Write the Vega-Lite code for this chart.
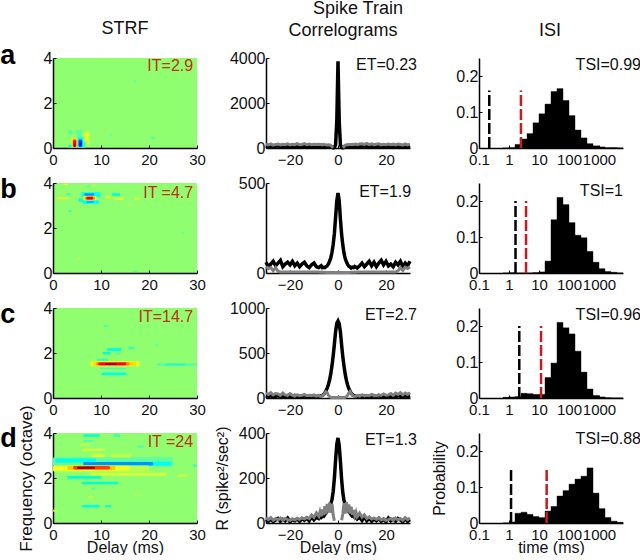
{"$schema":"https://vega.github.io/schema/vega-lite/v6.json","background":"white","padding":{"left":0,"top":0,"right":0,"bottom":0},"bounds":"flush","columns":3,"spacing":{"row":35,"column":69},
"config":{"view":{"stroke":null,"fill":"#8fff70"},"font":"Liberation Sans","axis":{"grid":false,"domainColor":"#000","domainWidth":1.5,"tickColor":"#000","tickSize":-3,"tickWidth":1,"labelFont":"Liberation Sans","labelFontSize":16,"labelColor":"#111","labelFlush":false,"labelOverlap":false,"titleFont":"Liberation Sans","titleFontSize":16,"titleFontWeight":"normal","titleColor":"#111"},"axisX":{"labelPadding":7,"titlePadding":-3,"labelFontSize":15},"axisY":{"labelPadding":4,"titlePadding":8}},
"datasets":{
"strf":[
{"p":"a","x":4.9,"x2":6,"y":0.53,"y2":0.8,"v":-0.08},{"p":"a","x":3.2,"x2":4.1,"y":0.6,"y2":0.8,"v":-0.08},{"p":"a","x":6.3,"x2":7.7,"y":0.1,"y2":0.75,"v":0.1},{"p":"a","x":6.6,"x2":7.4,"y":0.3,"y2":0.7,"v":0.18},{"p":"a","x":3.2,"x2":4.2,"y":0,"y2":0.15,"v":-0.2},{"p":"a","x":6.2,"x2":6.8,"y":0,"y2":0.3,"v":-0.1},{"p":"a","x":3.9,"x2":5.1,"y":0,"y2":0.46,"v":0.25},{"p":"a","x":4.05,"x2":4.95,"y":0,"y2":0.42,"v":0.5},{"p":"a","x":4.2,"x2":4.8,"y":0.04,"y2":0.36,"v":0.75},{"p":"a","x":4.35,"x2":4.65,"y":0.04,"y2":0.22,"v":1},{"p":"a","x":5.1,"x2":6.3,"y":0,"y2":0.5,"v":-0.25},{"p":"a","x":5.3,"x2":6.1,"y":0.04,"y2":0.38,"v":-0.7},{"p":"a","x":5.5,"x2":5.9,"y":0.08,"y2":0.25,"v":-0.85},{"p":"a","x":20.4,"x2":21.2,"y":0.4,"y2":0.5,"v":-0.08},{"p":"a","x":16.8,"x2":17.4,"y":2.95,"y2":3.05,"v":-0.06},{"p":"a","x":11.8,"x2":12.4,"y":0.55,"y2":0.65,"v":-0.06},
{"p":"b","x":5.8,"x2":10,"y":3.36,"y2":3.6,"v":-0.12},{"p":"b","x":6,"x2":9.8,"y":3.39,"y2":3.57,"v":-0.25},{"p":"b","x":6.5,"x2":8.6,"y":3.44,"y2":3.53,"v":-0.6},{"p":"b","x":5.3,"x2":6.7,"y":3.17,"y2":3.32,"v":-0.2},{"p":"b","x":6.2,"x2":9.6,"y":3.07,"y2":3.23,"v":-0.25},{"p":"b","x":6.9,"x2":8.6,"y":3.12,"y2":3.19,"v":-0.5},{"p":"b","x":6.2,"x2":9.1,"y":3.23,"y2":3.42,"v":0.25},{"p":"b","x":6.6,"x2":8.8,"y":3.25,"y2":3.4,"v":0.5},{"p":"b","x":6.9,"x2":8.4,"y":3.27,"y2":3.39,"v":0.8},{"p":"b","x":0.8,"x2":3.4,"y":3.28,"y2":3.38,"v":0.18},{"p":"b","x":2.85,"x2":3.5,"y":3.47,"y2":3.53,"v":-0.2},{"p":"b","x":2.15,"x2":3.2,"y":3.91,"y2":3.97,"v":0.2},{"p":"b","x":11,"x2":12.2,"y":3.32,"y2":3.41,"v":0.2},{"p":"b","x":12.2,"x2":14,"y":3.42,"y2":3.54,"v":-0.18},{"p":"b","x":12.6,"x2":14.7,"y":3.26,"y2":3.35,"v":0.2},{"p":"b","x":17.1,"x2":18.1,"y":3.25,"y2":3.35,"v":0.2},{"p":"b","x":15.7,"x2":16.5,"y":3,"y2":3.1,"v":0.08},{"p":"b","x":3.2,"x2":3.9,"y":2.72,"y2":2.8,"v":-0.12},{"p":"b","x":5,"x2":5.7,"y":0.6,"y2":0.68,"v":0.15},{"p":"b","x":16.6,"x2":17.6,"y":0.04,"y2":0.1,"v":-0.08},{"p":"b","x":26.7,"x2":27.3,"y":1.76,"y2":1.84,"v":-0.06},{"p":"b","x":7,"x2":8,"y":3.82,"y2":3.88,"v":-0.1},{"p":"b","x":8,"x2":9,"y":3.84,"y2":3.9,"v":0.15},
{"p":"c","x":11.2,"x2":14.3,"y":2.09,"y2":2.22,"v":-0.2},{"p":"c","x":10.3,"x2":12,"y":1.93,"y2":2.05,"v":-0.16},{"p":"c","x":15.7,"x2":17,"y":2.17,"y2":2.27,"v":-0.12},{"p":"c","x":12.9,"x2":14,"y":1.93,"y2":2,"v":-0.08},{"p":"c","x":9.1,"x2":11.5,"y":1.66,"y2":1.75,"v":-0.12},{"p":"c","x":9.8,"x2":15.3,"y":1.28,"y2":1.35,"v":-0.1},{"p":"c","x":10.1,"x2":15.3,"y":1.01,"y2":1.13,"v":-0.2},{"p":"c","x":21.6,"x2":30,"y":1.44,"y2":1.53,"v":-0.1},{"p":"c","x":23.5,"x2":27.5,"y":1.46,"y2":1.52,"v":-0.18},{"p":"c","x":21.3,"x2":22,"y":2.32,"y2":2.38,"v":-0.07},{"p":"c","x":10.5,"x2":11.5,"y":3.16,"y2":3.24,"v":-0.1},{"p":"c","x":7.4,"x2":8.2,"y":3.82,"y2":3.9,"v":0.1},{"p":"c","x":18.5,"x2":21,"y":1.44,"y2":1.5,"v":0.04},{"p":"c","x":7.7,"x2":18.1,"y":1.41,"y2":1.63,"v":0.2},{"p":"c","x":8.4,"x2":17.4,"y":1.43,"y2":1.6,"v":0.35},{"p":"c","x":9,"x2":16,"y":1.45,"y2":1.59,"v":0.55},{"p":"c","x":9.4,"x2":15.3,"y":1.46,"y2":1.58,"v":0.75},{"p":"c","x":10.8,"x2":13.3,"y":1.48,"y2":1.55,"v":1},
{"p":"d","x":0,"x2":25,"y":2.52,"y2":2.92,"v":-0.07},{"p":"d","x":0.4,"x2":9,"y":2.69,"y2":2.87,"v":-0.2},{"p":"d","x":6.3,"x2":24.7,"y":2.54,"y2":2.72,"v":-0.22},{"p":"d","x":6.3,"x2":20.9,"y":2.56,"y2":2.71,"v":-0.55},{"p":"d","x":0,"x2":20,"y":2.28,"y2":2.56,"v":0.1},{"p":"d","x":0,"x2":16,"y":2.33,"y2":2.55,"v":0.22},{"p":"d","x":3,"x2":13,"y":2.36,"y2":2.54,"v":0.4},{"p":"d","x":4.2,"x2":11.9,"y":2.38,"y2":2.53,"v":0.7},{"p":"d","x":5,"x2":8.75,"y":2.41,"y2":2.5,"v":1},{"p":"d","x":7.7,"x2":23.7,"y":2.1,"y2":2.23,"v":0.16},{"p":"d","x":2.9,"x2":10.1,"y":1.97,"y2":2.09,"v":-0.16},{"p":"d","x":6,"x2":13.6,"y":1.72,"y2":1.83,"v":-0.16},{"p":"d","x":6,"x2":9.8,"y":0.69,"y2":0.8,"v":-0.2},{"p":"d","x":10.8,"x2":12.2,"y":0.69,"y2":0.8,"v":-0.14},{"p":"d","x":8,"x2":10.8,"y":2.92,"y2":3.06,"v":0.18},{"p":"d","x":11.9,"x2":16.4,"y":2.92,"y2":3.06,"v":0.14},{"p":"d","x":6,"x2":10.8,"y":3.2,"y2":3.3,"v":0.16},{"p":"d","x":5.6,"x2":7.7,"y":3.45,"y2":3.54,"v":0.12},{"p":"d","x":6.3,"x2":9.8,"y":3.83,"y2":3.95,"v":-0.16},{"p":"d","x":12.6,"x2":14,"y":3.83,"y2":3.95,"v":-0.12},{"p":"d","x":6.3,"x2":8.4,"y":3.6,"y2":3.68,"v":-0.1},{"p":"d","x":26.1,"x2":27.8,"y":2.06,"y2":2.16,"v":0.15},{"p":"d","x":0,"x2":1,"y":0.5,"y2":0.6,"v":0.12},{"p":"d","x":7.4,"x2":8.4,"y":1.1,"y2":1.2,"v":0.12},{"p":"d","x":8,"x2":8.8,"y":1.5,"y2":1.58,"v":-0.1},{"p":"d","x":29.2,"x2":30,"y":2.5,"y2":2.6,"v":-0.12},{"p":"d","x":17,"x2":18.5,"y":1.2,"y2":1.3,"v":0.06},{"p":"d","x":17.5,"x2":19,"y":3.35,"y2":3.45,"v":-0.08}
],
"corr":[
{"x":-30,"ak":90,"ag":170,"bk":60,"bg":35,"ck":25,"cg":55,"dk":15,"dg":22},{"x":-29,"ak":50,"ag":140,"bk":35,"bg":25,"ck":15,"cg":40,"dk":8,"dg":15},{"x":-28,"ak":80,"ag":180,"bk":50,"bg":30,"ck":25,"cg":60,"dk":18,"dg":24},{"x":-27,"ak":40,"ag":130,"bk":65,"bg":12,"ck":12,"cg":35,"dk":6,"dg":12},{"x":-26,"ak":70,"ag":160,"bk":40,"bg":30,"ck":20,"cg":50,"dk":14,"dg":20},{"x":-25,"ak":100,"ag":175,"bk":55,"bg":10,"ck":28,"cg":45,"dk":20,"dg":14},{"x":-24,"ak":45,"ag":135,"bk":70,"bg":5,"ck":10,"cg":30,"dk":8,"dg":22},{"x":-23,"ak":85,"ag":165,"bk":35,"bg":5,"ck":22,"cg":55,"dk":16,"dg":12},{"x":-22,"ak":55,"ag":150,"bk":50,"bg":5,"ck":15,"cg":35,"dk":10,"dg":20},{"x":-21,"ak":95,"ag":185,"bk":60,"bg":5,"ck":25,"cg":30,"dk":22,"dg":15},{"x":-20,"ak":40,"ag":140,"bk":45,"bg":5,"ck":12,"cg":50,"dk":6,"dg":12},{"x":-19,"ak":75,"ag":170,"bk":65,"bg":5,"ck":20,"cg":30,"dk":15,"dg":18},{"x":-18,"ak":50,"ag":145,"bk":40,"bg":5,"ck":28,"cg":25,"dk":10,"dg":14},{"x":-17,"ak":90,"ag":190,"bk":55,"bg":5,"ck":15,"cg":35,"dk":18,"dg":20},{"x":-16,"ak":60,"ag":150,"bk":35,"bg":5,"ck":22,"cg":25,"dk":8,"dg":16},{"x":-15,"ak":45,"ag":160,"bk":50,"bg":5,"ck":12,"cg":30,"dk":20,"dg":22},{"x":-14,"ak":85,"ag":195,"bk":60,"bg":5,"ck":25,"cg":40,"dk":12,"dg":18},{"x":-13,"ak":55,"ag":145,"bk":40,"bg":5,"ck":15,"cg":25,"dk":22,"dg":25},{"x":-12,"ak":70,"ag":175,"bk":30,"bg":5,"ck":20,"cg":30,"dk":10,"dg":20},{"x":-11,"ak":40,"ag":150,"bk":45,"bg":5,"ck":12,"cg":25,"dk":28,"dg":35},{"x":-10,"ak":90,"ag":165,"bk":55,"bg":5,"ck":25,"cg":35,"dk":14,"dg":25},{"x":-9,"ak":55,"ag":155,"bk":35,"bg":5,"ck":18,"cg":20,"dk":25,"dg":45},{"x":-8,"ak":70,"ag":170,"bk":30,"bg":5,"ck":20,"cg":30,"dk":20,"dg":30},
{"x":-7.5,"ak":45,"ag":150,"bk":35,"bg":4,"ck":22,"cg":20,"dk":28,"dg":50},{"x":-7,"ak":80,"ag":165,"bk":40,"bg":5,"ck":25,"cg":20,"dk":25,"dg":30},{"x":-6.5,"ak":50,"ag":140,"bk":30,"bg":4,"ck":30,"cg":25,"dk":32,"dg":60},{"x":-6,"ak":65,"ag":160,"bk":32,"bg":4,"ck":40,"cg":35,"dk":30,"dg":35},{"x":-5.5,"ak":60,"ag":150,"bk":30,"bg":4,"ck":55,"cg":55,"dk":38,"dg":75},{"x":-5,"ak":55,"ag":145,"bk":35,"bg":3,"ck":80,"cg":70,"dk":45,"dg":40},{"x":-4.5,"ak":70,"ag":135,"bk":40,"bg":3,"ck":110,"cg":60,"dk":52,"dg":85},{"x":-4,"ak":50,"ag":140,"bk":50,"bg":3,"ck":150,"cg":30,"dk":60,"dg":50},{"x":-3.5,"ak":60,"ag":130,"bk":65,"bg":3,"ck":200,"cg":15,"dk":70,"dg":90},{"x":-3,"ak":60,"ag":120,"bk":85,"bg":3,"ck":270,"cg":8,"dk":85,"dg":45},{"x":-2.5,"ak":45,"ag":60,"bk":115,"bg":3,"ck":360,"cg":6,"dk":105,"dg":85},{"x":-2,"ak":10,"ag":10,"bk":160,"bg":3,"ck":470,"cg":5,"dk":140,"dg":35},{"x":-1.5,"ak":25,"ag":null,"bk":220,"bg":3,"ck":600,"cg":5,"dk":200,"dg":10},{"x":-1,"ak":150,"ag":null,"bk":310,"bg":3,"ck":740,"cg":5,"dk":280,"dg":null},{"x":-0.5,"ak":1200,"ag":null,"bk":400,"bg":3,"ck":830,"cg":5,"dk":350,"dg":null},{"x":0,"ak":3850,"ag":null,"bk":445,"bg":3,"ck":855,"cg":5,"dk":378,"dg":null},{"x":0.5,"ak":1200,"ag":null,"bk":400,"bg":3,"ck":825,"cg":5,"dk":345,"dg":null},{"x":1,"ak":150,"ag":null,"bk":300,"bg":3,"ck":735,"cg":5,"dk":275,"dg":null},{"x":1.5,"ak":25,"ag":null,"bk":215,"bg":3,"ck":590,"cg":5,"dk":195,"dg":12},{"x":2,"ak":10,"ag":10,"bk":155,"bg":3,"ck":460,"cg":5,"dk":135,"dg":40},{"x":2.5,"ak":50,"ag":70,"bk":110,"bg":3,"ck":355,"cg":6,"dk":100,"dg":88},{"x":3,"ak":55,"ag":130,"bk":80,"bg":3,"ck":265,"cg":8,"dk":85,"dg":42},{"x":3.5,"ak":65,"ag":140,"bk":62,"bg":3,"ck":195,"cg":15,"dk":72,"dg":92},{"x":4,"ak":50,"ag":150,"bk":48,"bg":3,"ck":145,"cg":30,"dk":62,"dg":48},{"x":4.5,"ak":70,"ag":145,"bk":38,"bg":3,"ck":105,"cg":58,"dk":50,"dg":82},{"x":5,"ak":55,"ag":160,"bk":34,"bg":3,"ck":78,"cg":72,"dk":44,"dg":42},{"x":5.5,"ak":75,"ag":150,"bk":28,"bg":4,"ck":52,"cg":50,"dk":36,"dg":72},{"x":6,"ak":50,"ag":165,"bk":32,"bg":4,"ck":38,"cg":30,"dk":30,"dg":36},{"x":6.5,"ak":80,"ag":155,"bk":30,"bg":4,"ck":28,"cg":22,"dk":32,"dg":58},{"x":7,"ak":60,"ag":170,"bk":36,"bg":5,"ck":24,"cg":20,"dk":24,"dg":32},{"x":7.5,"ak":85,"ag":180,"bk":32,"bg":4,"ck":20,"cg":20,"dk":26,"dg":48},{"x":8,"ak":50,"ag":150,"bk":28,"bg":5,"ck":18,"cg":30,"dk":18,"dg":28},
{"x":9,"ak":85,"ag":175,"bk":40,"bg":5,"ck":22,"cg":22,"dk":26,"dg":44},{"x":10,"ak":50,"ag":190,"bk":55,"bg":5,"ck":12,"cg":35,"dk":12,"dg":26},{"x":11,"ak":95,"ag":160,"bk":35,"bg":5,"ck":25,"cg":25,"dk":30,"dg":36},{"x":12,"ak":60,"ag":200,"bk":50,"bg":5,"ck":15,"cg":30,"dk":10,"dg":20},{"x":13,"ak":45,"ag":150,"bk":65,"bg":5,"ck":22,"cg":25,"dk":22,"dg":26},{"x":14,"ak":80,"ag":185,"bk":40,"bg":5,"ck":12,"cg":40,"dk":8,"dg":18},{"x":15,"ak":55,"ag":145,"bk":60,"bg":5,"ck":25,"cg":28,"dk":18,"dg":22},{"x":16,"ak":90,"ag":170,"bk":35,"bg":5,"ck":15,"cg":25,"dk":10,"dg":16},{"x":17,"ak":45,"ag":185,"bk":55,"bg":5,"ck":28,"cg":35,"dk":20,"dg":20},{"x":18,"ak":75,"ag":140,"bk":70,"bg":5,"ck":12,"cg":28,"dk":8,"dg":14},{"x":19,"ak":55,"ag":165,"bk":45,"bg":5,"ck":20,"cg":45,"dk":16,"dg":18},{"x":20,"ak":95,"ag":150,"bk":65,"bg":5,"ck":10,"cg":30,"dk":6,"dg":12},{"x":21,"ak":40,"ag":180,"bk":40,"bg":5,"ck":25,"cg":35,"dk":22,"dg":15},{"x":22,"ak":70,"ag":145,"bk":50,"bg":5,"ck":15,"cg":50,"dk":10,"dg":20},{"x":23,"ak":85,"ag":170,"bk":35,"bg":5,"ck":22,"cg":30,"dk":16,"dg":12},{"x":24,"ak":50,"ag":135,"bk":60,"bg":5,"ck":10,"cg":55,"dk":8,"dg":22},{"x":25,"ak":90,"ag":175,"bk":45,"bg":12,"ck":28,"cg":40,"dk":20,"dg":14},{"x":26,"ak":60,"ag":155,"bk":65,"bg":30,"ck":20,"cg":60,"dk":14,"dg":20},{"x":27,"ak":40,"ag":130,"bk":35,"bg":14,"ck":12,"cg":35,"dk":6,"dg":12},{"x":28,"ak":80,"ag":180,"bk":55,"bg":32,"ck":25,"cg":55,"dk":18,"dg":24},{"x":29,"ak":50,"ag":140,"bk":40,"bg":25,"ck":15,"cg":40,"dk":8,"dg":15},{"x":30,"ak":90,"ag":170,"bk":65,"bg":35,"ck":25,"cg":60,"dk":15,"dg":22}
],
"isi":[
{"x":0.631,"x2":1,"z":0,"a":0,"b":0,"c":0.002,"d":0},{"x":1,"x2":1.585,"z":0,"a":0.001,"b":0.001,"c":0.003,"d":0.003},{"x":1.585,"x2":2.512,"z":0,"a":0.01,"b":0,"c":0.004,"d":0.027},{"x":2.512,"x2":3.981,"z":0,"a":0.025,"b":0,"c":0.013,"d":0.03},{"x":3.981,"x2":6.31,"z":0,"a":0.04,"b":0,"c":0.012,"d":0.024},{"x":6.31,"x2":10,"z":0,"a":0.07,"b":0.001,"c":0.01,"d":0.018},{"x":10,"x2":15.85,"z":0,"a":0.095,"b":0.003,"c":0.01,"d":0.015},{"x":15.85,"x2":25.12,"z":0,"a":0.122,"b":0.033,"c":0.057,"d":0.033},{"x":25.12,"x2":39.81,"z":0,"a":0.157,"b":0.148,"c":0.097,"d":0.046},{"x":39.81,"x2":63.1,"z":0,"a":0.165,"b":0.21,"c":0.21,"d":0.075},{"x":63.1,"x2":100,"z":0,"a":0.132,"b":0.19,"c":0.195,"d":0.09},{"x":100,"x2":158.5,"z":0,"a":0.09,"b":0.14,"c":0.178,"d":0.108},{"x":158.5,"x2":251.2,"z":0,"a":0.05,"b":0.105,"c":0.13,"d":0.122},{"x":251.2,"x2":398.1,"z":0,"a":0.028,"b":0.098,"c":0.072,"d":0.13},{"x":398.1,"x2":631,"z":0,"a":0.012,"b":0.06,"c":0.025,"d":0.153},{"x":631,"x2":1000,"z":0,"a":0.006,"b":0.03,"c":0.007,"d":0.083},{"x":1000,"x2":1585,"z":0,"a":0.003,"b":0.012,"c":0.003,"d":0.04},{"x":1585,"x2":2512,"z":0,"a":0.001,"b":0.004,"c":0.001,"d":0.015},{"x":2512,"x2":3981,"z":0,"a":0.001,"b":0.002,"c":0,"d":0.005},{"x":3981,"x2":6310,"z":0,"a":0,"b":0,"c":0,"d":0.002}
],
"cuts":[
{"p":"a","k":"ET","x":0.22,"z":0,"top":0.16},{"p":"a","k":"IT","x":2.5,"z":0,"top":0.16},{"p":"b","k":"ET","x":1.65,"z":0,"top":0.2},{"p":"b","k":"IT","x":3.7,"z":0,"top":0.2},{"p":"c","k":"ET","x":2.2,"z":0,"top":0.2},{"p":"c","k":"IT","x":11.7,"z":0,"top":0.2},{"p":"d","k":"ET","x":1.17,"z":0,"top":0.15},{"p":"d","k":"IT","x":18,"z":0,"top":0.15}
],
"notes":[
{"id":"s-a","x":29.2,"y":3.65,"t":"IT=2.9"},{"id":"s-b","x":29.2,"y":3.55,"t":"IT =4.7"},{"id":"s-c","x":29.2,"y":3.6,"t":"IT=14.7"},{"id":"s-d","x":29.2,"y":3.6,"t":"IT =24"},
{"id":"c-a","x":32.9,"y":3690,"t":"ET=0.23"},{"id":"c-b","x":30.5,"y":450,"t":"ET=1.9"},{"id":"c-c","x":32.9,"y":922,"t":"ET=2.7"},{"id":"c-d","x":32.9,"y":369,"t":"ET=1.3"},
{"id":"i-a","x":25100,"y":0.23,"t":"TSI=0.99"},{"id":"i-b","x":6310,"y":0.228,"t":"TSI=1"},{"id":"i-c","x":25100,"y":0.23,"t":"TSI=0.96"},{"id":"i-d","x":25100,"y":0.232,"t":"TSI=0.88"}
],
"letters":[
{"id":"a","x":-11,"y":3.73,"t":"a"},{"id":"b","x":-11,"y":3.33,"t":"b"},{"id":"c","x":-11,"y":3.33,"t":"c"},{"id":"d","x":-11,"y":3.38,"t":"d"}
],
"heads":[
{"id":"s","x":15,"y":5.07,"t":"STRF"},{"id":"c","x":8.3,"y":5955,"t":"Spike Train"},{"id":"c","x":2.1,"y":4978,"t":"Correlograms"},{"id":"i","x":23.4,"y":0.311,"t":"ISI"}
]
},
"concat":[
{"width":144,"height":90,"encoding":{"x":{"field":"x","type":"quantitative","scale":{"domain":[0,30]},"axis":{"values":[0,10,20,30],"title":null}},"y":{"field":"y","type":"quantitative","scale":{"domain":[0,4]},"axis":{"values":[0,2,4],"title":null}}},"layer":[
{"data":{"name":"strf"},"transform":[{"filter":"datum.p=='a'"}],"mark":{"type":"rect","cornerRadius":1.5},"encoding":{"x2":{"field":"x2"},"y2":{"field":"y2"},"color":{"field":"v","type":"quantitative","legend":null,"scale":{"domain":[-1,-0.75,-0.25,0,0.25,0.75,1],"range":["#000080","#0000ff","#00ffff","#8fff70","#ffff00","#ff0000","#800000"]}}}},
{"data":{"name":"notes"},"transform":[{"filter":"datum.id=='s-a'"}],"mark":{"type":"text","align":"right","baseline":"middle","fontSize":16,"color":"#cc2a1c"},"encoding":{"text":{"field":"t","type":"nominal"}}},
{"data":{"name":"letters"},"transform":[{"filter":"datum.id=='a'"}],"mark":{"type":"text","align":"left","baseline":"alphabetic","fontSize":27,"fontWeight":"bold","color":"#000"},"encoding":{"text":{"field":"t","type":"nominal"}}},
{"data":{"name":"heads"},"transform":[{"filter":"datum.id=='s'"}],"mark":{"type":"text","align":"center","baseline":"alphabetic","fontSize":18,"color":"#111"},"encoding":{"text":{"field":"t","type":"nominal"}}}
]},
{"width":144,"height":90,"view":{"fill":"white"},"encoding":{"x":{"field":"x","type":"quantitative","scale":{"domain":[-30,30]},"axis":{"values":[-20,0,20],"title":null}},"y":{"field":"y","type":"quantitative","scale":{"domain":[0,4000]},"axis":{"values":[0,2000,4000],"format":"d","title":null}}},"layer":[
{"data":{"name":"corr"},"mark":{"type":"line","color":"#000","strokeWidth":3.5},"encoding":{"y":{"field":"ak"}}},
{"data":{"name":"corr"},"mark":{"type":"line","color":"#808080","strokeWidth":3},"encoding":{"y":{"field":"ag"}}},
{"data":{"name":"notes"},"transform":[{"filter":"datum.id=='c-a'"}],"mark":{"type":"text","align":"right","baseline":"middle","fontSize":16,"color":"#111"},"encoding":{"text":{"field":"t","type":"nominal"}}},
{"data":{"name":"heads"},"transform":[{"filter":"datum.id=='c'"}],"mark":{"type":"text","align":"center","baseline":"alphabetic","fontSize":18,"color":"#111"},"encoding":{"text":{"field":"t","type":"nominal"}}}
]},
{"width":144,"height":90,"view":{"fill":"white"},"encoding":{"x":{"field":"x","type":"quantitative","scale":{"type":"log","domain":[0.1,6310]},"axis":{"values":[0.1,1,10,100,1000],"format":"~g","title":null}},"y":{"field":"y","type":"quantitative","scale":{"domain":[0,0.25]},"axis":{"values":[0,0.1,0.2],"format":"~g","title":null}}},"layer":[
{"data":{"name":"isi"},"mark":{"type":"rect","color":"#000","stroke":"#000","strokeWidth":0.4},"encoding":{"x2":{"field":"x2"},"y":{"field":"a"},"y2":{"field":"z"}}},
{"data":{"name":"cuts"},"transform":[{"filter":"datum.p=='a'"}],"mark":{"type":"rule","strokeWidth":2.5,"strokeDash":[11,3]},"encoding":{"y":{"field":"z"},"y2":{"field":"top"},"color":{"field":"k","type":"nominal","legend":null,"scale":{"domain":["ET","IT"],"range":["#000000","#cc1a1a"]}}}},
{"data":{"name":"notes"},"transform":[{"filter":"datum.id=='i-a'"}],"mark":{"type":"text","align":"right","baseline":"middle","fontSize":16,"color":"#111"},"encoding":{"text":{"field":"t","type":"nominal"}}},
{"data":{"name":"heads"},"transform":[{"filter":"datum.id=='i'"}],"mark":{"type":"text","align":"center","baseline":"alphabetic","fontSize":18,"color":"#111"},"encoding":{"text":{"field":"t","type":"nominal"}}}
]},
{"width":144,"height":90,"encoding":{"x":{"field":"x","type":"quantitative","scale":{"domain":[0,30]},"axis":{"values":[0,10,20,30],"title":null}},"y":{"field":"y","type":"quantitative","scale":{"domain":[0,4]},"axis":{"values":[0,2,4],"title":null}}},"layer":[
{"data":{"name":"strf"},"transform":[{"filter":"datum.p=='b'"}],"mark":{"type":"rect","cornerRadius":1.5},"encoding":{"x2":{"field":"x2"},"y2":{"field":"y2"},"color":{"field":"v","type":"quantitative","legend":null,"scale":{"domain":[-1,-0.75,-0.25,0,0.25,0.75,1],"range":["#000080","#0000ff","#00ffff","#8fff70","#ffff00","#ff0000","#800000"]}}}},
{"data":{"name":"notes"},"transform":[{"filter":"datum.id=='s-b'"}],"mark":{"type":"text","align":"right","baseline":"middle","fontSize":16,"color":"#cc2a1c"},"encoding":{"text":{"field":"t","type":"nominal"}}},
{"data":{"name":"letters"},"transform":[{"filter":"datum.id=='b'"}],"mark":{"type":"text","align":"left","baseline":"alphabetic","fontSize":27,"fontWeight":"bold","color":"#000"},"encoding":{"text":{"field":"t","type":"nominal"}}}
]},
{"width":144,"height":90,"view":{"fill":"white"},"encoding":{"x":{"field":"x","type":"quantitative","scale":{"domain":[-30,30]},"axis":{"values":[-20,0,20],"title":null}},"y":{"field":"y","type":"quantitative","scale":{"domain":[0,500]},"axis":{"values":[0,500],"format":"d","title":null}}},"layer":[
{"data":{"name":"corr"},"mark":{"type":"line","color":"#000","strokeWidth":3.5},"encoding":{"y":{"field":"bk"}}},
{"data":{"name":"corr"},"mark":{"type":"line","color":"#808080","strokeWidth":3},"encoding":{"y":{"field":"bg"}}},
{"data":{"name":"notes"},"transform":[{"filter":"datum.id=='c-b'"}],"mark":{"type":"text","align":"right","baseline":"middle","fontSize":16,"color":"#111"},"encoding":{"text":{"field":"t","type":"nominal"}}}
]},
{"width":144,"height":90,"view":{"fill":"white"},"encoding":{"x":{"field":"x","type":"quantitative","scale":{"type":"log","domain":[0.1,6310]},"axis":{"values":[0.1,1,10,100,1000],"format":"~g","title":null}},"y":{"field":"y","type":"quantitative","scale":{"domain":[0,0.25]},"axis":{"values":[0,0.1,0.2],"format":"~g","title":null}}},"layer":[
{"data":{"name":"isi"},"mark":{"type":"rect","color":"#000","stroke":"#000","strokeWidth":0.4},"encoding":{"x2":{"field":"x2"},"y":{"field":"b"},"y2":{"field":"z"}}},
{"data":{"name":"cuts"},"transform":[{"filter":"datum.p=='b'"}],"mark":{"type":"rule","strokeWidth":2.5,"strokeDash":[11,3]},"encoding":{"y":{"field":"z"},"y2":{"field":"top"},"color":{"field":"k","type":"nominal","legend":null,"scale":{"domain":["ET","IT"],"range":["#000000","#cc1a1a"]}}}},
{"data":{"name":"notes"},"transform":[{"filter":"datum.id=='i-b'"}],"mark":{"type":"text","align":"right","baseline":"middle","fontSize":16,"color":"#111"},"encoding":{"text":{"field":"t","type":"nominal"}}}
]},
{"width":144,"height":90,"encoding":{"x":{"field":"x","type":"quantitative","scale":{"domain":[0,30]},"axis":{"values":[0,10,20,30],"title":null}},"y":{"field":"y","type":"quantitative","scale":{"domain":[0,4]},"axis":{"values":[0,2,4],"title":null}}},"layer":[
{"data":{"name":"strf"},"transform":[{"filter":"datum.p=='c'"}],"mark":{"type":"rect","cornerRadius":1.5},"encoding":{"x2":{"field":"x2"},"y2":{"field":"y2"},"color":{"field":"v","type":"quantitative","legend":null,"scale":{"domain":[-1,-0.75,-0.25,0,0.25,0.75,1],"range":["#000080","#0000ff","#00ffff","#8fff70","#ffff00","#ff0000","#800000"]}}}},
{"data":{"name":"notes"},"transform":[{"filter":"datum.id=='s-c'"}],"mark":{"type":"text","align":"right","baseline":"middle","fontSize":16,"color":"#cc2a1c"},"encoding":{"text":{"field":"t","type":"nominal"}}},
{"data":{"name":"letters"},"transform":[{"filter":"datum.id=='c'"}],"mark":{"type":"text","align":"left","baseline":"alphabetic","fontSize":27,"fontWeight":"bold","color":"#000"},"encoding":{"text":{"field":"t","type":"nominal"}}}
]},
{"width":144,"height":90,"view":{"fill":"white"},"encoding":{"x":{"field":"x","type":"quantitative","scale":{"domain":[-30,30]},"axis":{"values":[-20,0,20],"title":null}},"y":{"field":"y","type":"quantitative","scale":{"domain":[0,1000]},"axis":{"values":[0,500,1000],"format":"d","title":null}}},"layer":[
{"data":{"name":"corr"},"mark":{"type":"line","color":"#000","strokeWidth":3.5},"encoding":{"y":{"field":"ck"}}},
{"data":{"name":"corr"},"mark":{"type":"line","color":"#808080","strokeWidth":3},"encoding":{"y":{"field":"cg"}}},
{"data":{"name":"notes"},"transform":[{"filter":"datum.id=='c-c'"}],"mark":{"type":"text","align":"right","baseline":"middle","fontSize":16,"color":"#111"},"encoding":{"text":{"field":"t","type":"nominal"}}}
]},
{"width":144,"height":90,"view":{"fill":"white"},"encoding":{"x":{"field":"x","type":"quantitative","scale":{"type":"log","domain":[0.1,6310]},"axis":{"values":[0.1,1,10,100,1000],"format":"~g","title":null}},"y":{"field":"y","type":"quantitative","scale":{"domain":[0,0.25]},"axis":{"values":[0,0.1,0.2],"format":"~g","title":null}}},"layer":[
{"data":{"name":"isi"},"mark":{"type":"rect","color":"#000","stroke":"#000","strokeWidth":0.4},"encoding":{"x2":{"field":"x2"},"y":{"field":"c"},"y2":{"field":"z"}}},
{"data":{"name":"cuts"},"transform":[{"filter":"datum.p=='c'"}],"mark":{"type":"rule","strokeWidth":2.5,"strokeDash":[11,3]},"encoding":{"y":{"field":"z"},"y2":{"field":"top"},"color":{"field":"k","type":"nominal","legend":null,"scale":{"domain":["ET","IT"],"range":["#000000","#cc1a1a"]}}}},
{"data":{"name":"notes"},"transform":[{"filter":"datum.id=='i-c'"}],"mark":{"type":"text","align":"right","baseline":"middle","fontSize":16,"color":"#111"},"encoding":{"text":{"field":"t","type":"nominal"}}}
]},
{"width":144,"height":90,"encoding":{"x":{"field":"x","type":"quantitative","scale":{"domain":[0,30]},"axis":{"values":[0,10,20,30],"title":"Delay (ms)"}},"y":{"field":"y","type":"quantitative","scale":{"domain":[0,4]},"axis":{"values":[0,2,4],"title":"Frequency (octave)","titleFontSize":17}}},"layer":[
{"data":{"name":"strf"},"transform":[{"filter":"datum.p=='d'"}],"mark":{"type":"rect","cornerRadius":1.5},"encoding":{"x2":{"field":"x2"},"y2":{"field":"y2"},"color":{"field":"v","type":"quantitative","legend":null,"scale":{"domain":[-1,-0.75,-0.25,0,0.25,0.75,1],"range":["#000080","#0000ff","#00ffff","#8fff70","#ffff00","#ff0000","#800000"]}}}},
{"data":{"name":"notes"},"transform":[{"filter":"datum.id=='s-d'"}],"mark":{"type":"text","align":"right","baseline":"middle","fontSize":16,"color":"#cc2a1c"},"encoding":{"text":{"field":"t","type":"nominal"}}},
{"data":{"name":"letters"},"transform":[{"filter":"datum.id=='d'"}],"mark":{"type":"text","align":"left","baseline":"alphabetic","fontSize":27,"fontWeight":"bold","color":"#000"},"encoding":{"text":{"field":"t","type":"nominal"}}}
]},
{"width":144,"height":90,"view":{"fill":"white"},"encoding":{"x":{"field":"x","type":"quantitative","scale":{"domain":[-30,30]},"axis":{"values":[-20,0,20],"title":"Delay (ms)"}},"y":{"field":"y","type":"quantitative","scale":{"domain":[0,400]},"axis":{"values":[0,200,400],"format":"d","title":"R (spike²/sec²)"}}},"layer":[
{"data":{"name":"corr"},"mark":{"type":"line","color":"#000","strokeWidth":3.5},"encoding":{"y":{"field":"dk"}}},
{"data":{"name":"corr"},"mark":{"type":"line","color":"#808080","strokeWidth":3},"encoding":{"y":{"field":"dg"}}},
{"data":{"name":"notes"},"transform":[{"filter":"datum.id=='c-d'"}],"mark":{"type":"text","align":"right","baseline":"middle","fontSize":16,"color":"#111"},"encoding":{"text":{"field":"t","type":"nominal"}}}
]},
{"width":144,"height":90,"view":{"fill":"white"},"encoding":{"x":{"field":"x","type":"quantitative","scale":{"type":"log","domain":[0.1,6310]},"axis":{"values":[0.1,1,10,100,1000],"format":"~g","title":"time (ms)"}},"y":{"field":"y","type":"quantitative","scale":{"domain":[0,0.25]},"axis":{"values":[0,0.1,0.2],"format":"~g","title":"Probability"}}},"layer":[
{"data":{"name":"isi"},"mark":{"type":"rect","color":"#000","stroke":"#000","strokeWidth":0.4},"encoding":{"x2":{"field":"x2"},"y":{"field":"d"},"y2":{"field":"z"}}},
{"data":{"name":"cuts"},"transform":[{"filter":"datum.p=='d'"}],"mark":{"type":"rule","strokeWidth":2.5,"strokeDash":[11,3]},"encoding":{"y":{"field":"z"},"y2":{"field":"top"},"color":{"field":"k","type":"nominal","legend":null,"scale":{"domain":["ET","IT"],"range":["#000000","#cc1a1a"]}}}},
{"data":{"name":"notes"},"transform":[{"filter":"datum.id=='i-d'"}],"mark":{"type":"text","align":"right","baseline":"middle","fontSize":16,"color":"#111"},"encoding":{"text":{"field":"t","type":"nominal"}}}
]}
]}
